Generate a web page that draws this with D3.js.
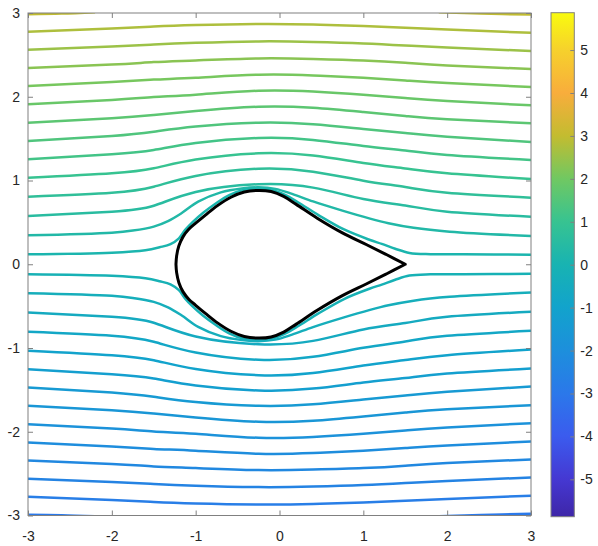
<!DOCTYPE html>
<html>
<head>
<script src="https://d3js.org/d3.v7.min.js"></script>
<style>
  body { margin: 0; background: #fff; }
</style>
</head>
<body>
<svg width="598" height="546"></svg>
<script>
// sample x positions shared by the far streamlines
var xs = [-3, -2, -1.5, -1, -0.25, 0.4, 1, 1.5, 2, 3];

// streamlines above the body (level, y at each xs)
var upperLevels = [2.75, 2.53, 2.31, 2.09, 1.87, 1.65, 1.43, 1.21, 0.99, 0.77, 0.55];
var upperY = [
  [2.776, 2.814, 2.838, 2.856, 2.868, 2.862, 2.844, 2.825, 2.802, 2.764],
  [2.561, 2.599, 2.623, 2.644, 2.661, 2.655, 2.637, 2.612, 2.587, 2.546],
  [2.342, 2.384, 2.414, 2.434, 2.458, 2.452, 2.434, 2.405, 2.372, 2.331],
  [2.128, 2.175, 2.205, 2.227, 2.263, 2.255, 2.227, 2.195, 2.163, 2.116],
  [1.909, 1.961, 1.996, 2.024, 2.072, 2.062, 2.024, 1.985, 1.949, 1.897],
  [1.690, 1.742, 1.782, 1.829, 1.881, 1.868, 1.817, 1.770, 1.730, 1.683],
  [1.471, 1.531, 1.582, 1.644, 1.690, 1.672, 1.615, 1.567, 1.523, 1.459],
  [1.253, 1.313, 1.364, 1.447, 1.507, 1.485, 1.412, 1.358, 1.304, 1.245],
  [1.032, 1.086, 1.146, 1.251, 1.325, 1.298, 1.209, 1.143, 1.086, 1.018],
  [0.807, 0.854, 0.926, 1.054, 1.141, 1.105, 0.998, 0.922, 0.854, 0.795],
  [0.576, 0.628, 0.699, 0.863, 0.955, 0.915, 0.779, 0.702, 0.628, 0.568]
];

// streamlines below the body
var lowerLevels = [-2.75, -2.53, -2.31, -2.09, -1.87, -1.65, -1.43, -1.21, -0.99, -0.77, -0.55];
var lowerY = [
  [-2.776, -2.814, -2.838, -2.856, -2.868, -2.862, -2.844, -2.825, -2.802, -2.764],
  [-2.561, -2.599, -2.623, -2.644, -2.661, -2.655, -2.637, -2.612, -2.587, -2.546],
  [-2.342, -2.384, -2.414, -2.434, -2.458, -2.452, -2.434, -2.405, -2.372, -2.331],
  [-2.128, -2.175, -2.205, -2.227, -2.263, -2.255, -2.227, -2.195, -2.163, -2.116],
  [-1.909, -1.961, -1.996, -2.024, -2.072, -2.062, -2.024, -1.985, -1.949, -1.897],
  [-1.690, -1.742, -1.782, -1.829, -1.881, -1.868, -1.817, -1.770, -1.730, -1.683],
  [-1.471, -1.531, -1.582, -1.644, -1.690, -1.672, -1.615, -1.567, -1.523, -1.459],
  [-1.253, -1.313, -1.364, -1.447, -1.507, -1.485, -1.412, -1.358, -1.304, -1.245],
  [-1.032, -1.086, -1.146, -1.251, -1.325, -1.298, -1.209, -1.143, -1.086, -1.018],
  [-0.807, -0.854, -0.926, -1.054, -1.141, -1.105, -0.998, -0.922, -0.854, -0.795],
  [-0.576, -0.628, -0.699, -0.863, -0.955, -0.915, -0.779, -0.702, -0.628, -0.568]
];

// streamlines that run close to the body
var nearLevels = [0.33, 0.11, -0.11, -0.33];
var nearPts = [
  [[-3,0.346],[-2,0.377],[-1.75,0.402],[-1.5,0.449],[-1.33,0.515],[-1.17,0.609],[-0.97,0.747],[-0.7,0.858],[-0.45,0.905],[-0.25,0.918],[-0.05,0.9],[0.15,0.84],[0.4,0.75],[0.75,0.64],[1.08,0.545],[1.3,0.49],[1.6,0.435],[2.03,0.389],[3,0.338]],
  [[-3,0.119],[-2,0.138],[-1.6,0.168],[-1.43,0.203],[-1.3,0.24],[-1.2,0.31],[-1.125,0.41],[-1.04,0.5],[-0.91,0.615],[-0.76,0.725],[-0.6,0.825],[-0.43,0.888],[-0.25,0.905],[-0.1,0.89],[0.06,0.83],[0.22,0.74],[0.46,0.59],[0.77,0.415],[1.08,0.29],[1.22,0.243],[1.38,0.185],[1.55,0.135],[1.8,0.12],[2.2,0.119],[3,0.114]],
  [[-3,-0.119],[-2,-0.138],[-1.6,-0.168],[-1.43,-0.203],[-1.3,-0.24],[-1.2,-0.31],[-1.125,-0.41],[-1.04,-0.5],[-0.91,-0.615],[-0.76,-0.725],[-0.6,-0.825],[-0.43,-0.888],[-0.25,-0.905],[-0.1,-0.89],[0.06,-0.83],[0.22,-0.74],[0.46,-0.59],[0.77,-0.415],[1.08,-0.29],[1.22,-0.243],[1.38,-0.185],[1.55,-0.135],[1.8,-0.12],[2.2,-0.119],[3,-0.114]],
  [[-3,-0.346],[-2,-0.377],[-1.75,-0.402],[-1.5,-0.449],[-1.33,-0.515],[-1.17,-0.609],[-0.97,-0.747],[-0.7,-0.858],[-0.45,-0.905],[-0.25,-0.918],[-0.05,-0.9],[0.15,-0.84],[0.4,-0.75],[0.75,-0.64],[1.08,-0.545],[1.3,-0.49],[1.6,-0.435],[2.03,-0.389],[3,-0.338]]
];

// short pieces that clip the plot corners
var cornerLevels = [2.97, 2.97, -2.97, -2.97];
var cornerPts = [
  [[-3,2.985],[-2.6,2.993],[-2.2,3.01]],
  [[1.9,3.01],[2.4,2.993],[3,2.982]],
  [[-3,-2.99],[-2.6,-2.996],[-2.2,-3.01]],
  [[1.9,-3.01],[2.4,-2.995],[3,-2.978]]
];

// body outline, nose to tail
var bodyUpper = [[-1.235,0],[-1.227,0.1],[-1.2,0.22],[-1.15,0.33],[-1.08,0.42],[-1.0,0.49],[-0.88,0.59],[-0.74,0.7],[-0.58,0.8],[-0.42,0.862],[-0.25,0.882],[-0.1,0.868],[0.05,0.81],[0.2,0.715],[0.45,0.55],[0.75,0.375],[1.04,0.233],[1.28,0.113],[1.5,0]];
var bodyLower = [[-1.235,0],[-1.227,-0.1],[-1.2,-0.22],[-1.15,-0.33],[-1.08,-0.42],[-1.0,-0.49],[-0.88,-0.59],[-0.74,-0.7],[-0.58,-0.8],[-0.42,-0.862],[-0.25,-0.882],[-0.1,-0.868],[0.05,-0.81],[0.2,-0.715],[0.45,-0.55],[0.75,-0.375],[1.04,-0.233],[1.28,-0.113],[1.5,0]];

// colormap
var cmapValues = [-5.87, -5, -4, -3, -2, -1, 0, 1, 2, 3, 4, 5, 5.87];
var cmapColors = ["#3e26a8", "#4538d2", "#3b5bee", "#2b78ea", "#1d8fdc", "#12a3cc", "#18b3b2", "#37c391", "#70c862", "#c3bc30", "#f8ad3c", "#f6d12c", "#f9fb0e"];

var xTicks = [-3, -2, -1, 0, 1, 2, 3];
var yTicks = [-3, -2, -1, 0, 1, 2, 3];
var cbTicks = [-5, -4, -3, -2, -1, 0, 1, 2, 3, 4, 5];

var svg = d3.select("svg");
svg.append("rect").attr("width", 598).attr("height", 546).attr("fill", "#fff");

var x = d3.scaleLinear().domain([-3, 3]).range([28, 531]),
    y = d3.scaleLinear().domain([-3, 3]).range([515.5, 13]),
    color = d3.scaleLinear().domain(cmapValues).range(cmapColors);

var smooth = d3.line()
    .x(function (d) { return x(d[0]); })
    .y(function (d) { return y(d[1]); })
    .curve(d3.curveNatural);
var line = d3.line()
    .x(function (d) { return x(d[0]); })
    .y(function (d) { return y(d[1]); })
    .curve(d3.curveCatmullRom.alpha(0.5));

svg.append("clipPath").attr("id", "plotclip")
    .append("rect").attr("x", 28).attr("y", 13).attr("width", 503).attr("height", 502.5);

var lines = [];
upperLevels.forEach(function (lv, k) {
    lines.push({level: lv, gen: smooth, pts: xs.map(function (xv, i) { return [xv, upperY[k][i]]; })});
});
lowerLevels.forEach(function (lv, k) {
    lines.push({level: lv, gen: smooth, pts: xs.map(function (xv, i) { return [xv, lowerY[k][i]]; })});
});
nearLevels.forEach(function (lv, k) { lines.push({level: lv, gen: line, pts: nearPts[k]}); });
cornerLevels.forEach(function (lv, k) { lines.push({level: lv, gen: line, pts: cornerPts[k]}); });

var g = svg.append("g").attr("clip-path", "url(#plotclip)");
g.selectAll(".stream")
    .data(lines)
    .enter().append("path")
    .attr("class", "stream")
    .attr("d", function (d) { return d.gen(d.pts); })
    .attr("fill", "none")
    .attr("stroke", function (d) { return color(d.level); })
    .attr("stroke-width", 2.5);

// body
var bodyPath = line(bodyUpper) + line(bodyLower.slice().reverse()).replace(/^M/, "L") + "Z";
g.append("path")
    .attr("d", bodyPath)
    .attr("fill", "#fff")
    .attr("stroke", "#000")
    .attr("stroke-width", 3)
    .attr("stroke-linejoin", "round");

// axes box and ticks
var axisCol = "#808080";
function styleAxis(sel) {
    sel.select(".domain").remove();
    sel.attr("font-size", 14).attr("font-family", '"Liberation Sans", Arial, Helvetica, sans-serif');
    sel.selectAll(".tick line").attr("stroke", axisCol);
    sel.selectAll(".tick text").attr("fill", "#262626");
}
svg.append("g").attr("transform", "translate(0,515.5)")
    .call(d3.axisBottom(x).tickValues(xTicks).tickSizeInner(-5).tickSizeOuter(0).tickPadding(16)
        .tickFormat(function (d) { return String(d); }))
    .call(styleAxis);
svg.append("g").attr("transform", "translate(0,13)")
    .call(d3.axisTop(x).tickValues(xTicks).tickSizeInner(-5).tickSizeOuter(0).tickFormat(""))
    .call(styleAxis);
svg.append("g").attr("transform", "translate(28,0)")
    .call(d3.axisLeft(y).tickValues(yTicks).tickSizeInner(-5).tickSizeOuter(0).tickPadding(8)
        .tickFormat(function (d) { return String(d); }))
    .call(styleAxis);
svg.append("g").attr("transform", "translate(531,0)")
    .call(d3.axisRight(y).tickValues(yTicks).tickSizeInner(-5).tickSizeOuter(0).tickFormat(""))
    .call(styleAxis);
svg.append("rect").attr("x", 28).attr("y", 13).attr("width", 503).attr("height", 502.5)
    .attr("fill", "none").attr("stroke", axisCol).attr("stroke-width", 1);

// colorbar
var cb = d3.scaleLinear().domain([-5.87, 5.87]).range([516.7, 12.7]);
var grad = svg.append("defs").append("linearGradient").attr("id", "cbgrad")
    .attr("x1", 0).attr("y1", 1).attr("x2", 0).attr("y2", 0);
grad.selectAll("stop").data(cmapValues).enter().append("stop")
    .attr("offset", function (d) { return (d - cmapValues[0]) / (cmapValues[cmapValues.length - 1] - cmapValues[0]); })
    .attr("stop-color", function (d, i) { return cmapColors[i]; });
svg.append("rect").attr("x", 551).attr("y", 12.7).attr("width", 23.3).attr("height", 504)
    .attr("fill", "url(#cbgrad)").attr("stroke", axisCol).attr("stroke-width", 1);
svg.append("g").attr("transform", "translate(574.3,0)")
    .call(d3.axisRight(cb).tickValues(cbTicks).tickSizeInner(-4).tickSizeOuter(0).tickPadding(6)
        .tickFormat(function (d) { return String(d); }))
    .call(styleAxis);
</script>
</body>
</html>
